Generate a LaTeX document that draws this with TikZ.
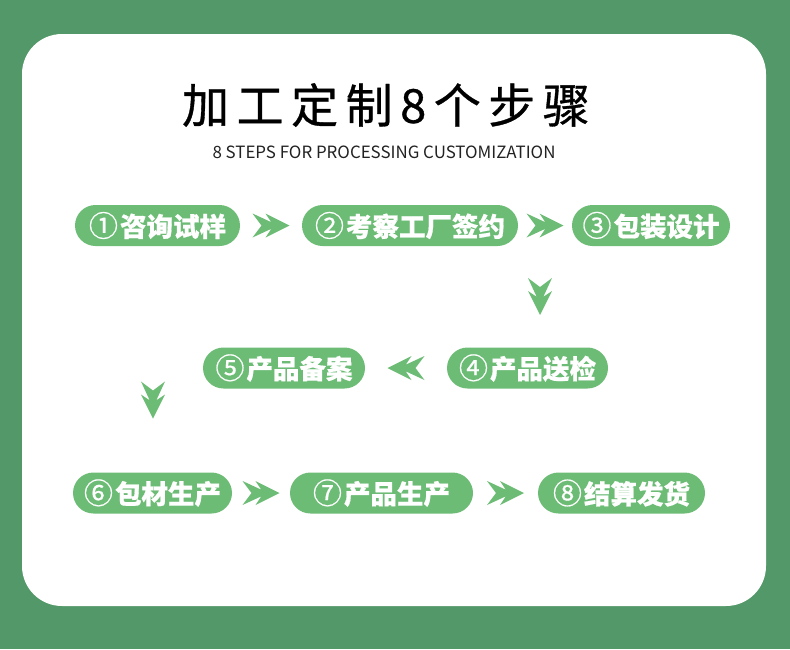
\documentclass[tikz,border=0pt]{standalone}
\usepackage{fontspec}
\newfontfamily\cjk{Noto Sans CJK SC}
\usepackage{xcolor}
\usepackage{tikz}
\definecolor{bggreen}{HTML}{529868}
\definecolor{pillgreen}{HTML}{6CBC76}
\definecolor{inkgray}{HTML}{222222}

\newcommand\stepnum[1]{{\mdseries\fontsize{29}{29}\selectfont #1}\hspace{2pt}}

\tikzset{
  dblarrow/.pic={
    \fill[pillgreen] (-18.5,12) -- (0.3,3.3) -- (-5.5,12) -- (18.5,0) -- (-5.5,-12)
      -- (0.3,-3.3) -- (-18.5,-12) -- (-9.5,0) -- cycle;
  }
}

\begin{document}
\begin{tikzpicture}[
    x=1pt, y=-1pt,
    stage/.style={fill=pillgreen, rounded corners=20.5pt, minimum width=#1, minimum height=41pt,
      inner sep=0pt, text=white, font=\cjk\bfseries\fontsize{26.5}{27}\selectfont\addfontfeatures{FakeBold=0.6}},
    stage/.default=160pt
]
\useasboundingbox (0,0) rectangle (790,649);
\fill[bggreen] (0,0) rectangle (790,649);
\fill[white, rounded corners=40pt] (22,34) rectangle (766,606);

% title
\node[font=\cjk\fontsize{47}{47}\selectfont\addfontfeatures{LetterSpace=16,FakeBold=0.7}, text=black] (title) at (386,105) {加工定制8个步骤};
\node[font=\cjk\fontsize{16.9}{17}\selectfont, text=inkgray] (subtitle) at (384,152) {8 STEPS FOR PROCESSING CUSTOMIZATION};

% steps
\node[stage=165pt] (s1) at (157.5,225.5) {\stepnum{①}咨询试样};
\node[stage=216pt] (s2) at (410,225.5) {\stepnum{②}考察工厂签约};
\node[stage=158pt] (s3) at (651,225.5) {\stepnum{③}包装设计};
\node[stage=161pt] (s4) at (527.5,368) {\stepnum{④}产品送检};
\node[stage=162pt] (s5) at (284,368) {\stepnum{⑤}产品备案};
\node[stage=159pt] (s6) at (152.5,493) {\stepnum{⑥}包材生产};
\node[stage=183pt] (s7) at (381.5,493) {\stepnum{⑦}产品生产};
\node[stage=167pt] (s8) at (621.5,493) {\stepnum{⑧}结算发货};

% arrows
\path (s1.east) -- (s2.west) pic[midway]{dblarrow};
\path (s2.east) -- (s3.west) pic[midway]{dblarrow};
\pic[rotate=-90] at (540,296.5) {dblarrow};
\path (s4.west) -- (s5.east) pic[midway, rotate=180]{dblarrow};
\pic[rotate=-90] at (153,400) {dblarrow};
\path (s6.east) -- (s7.west) pic[midway]{dblarrow};
\path (s7.east) -- (s8.west) pic[midway]{dblarrow};
\end{tikzpicture}
\end{document}
